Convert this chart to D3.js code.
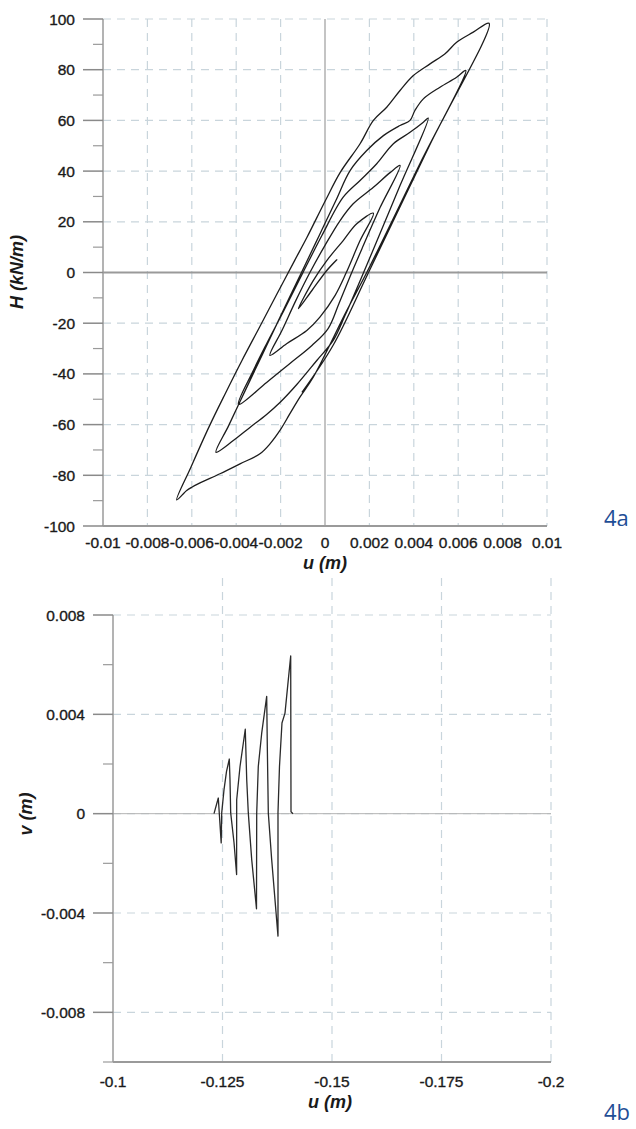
<!DOCTYPE html>
<html><head><meta charset="utf-8">
<script src="https://cdn.jsdelivr.net/npm/d3@7"></script>
<style>
html,body{margin:0;padding:0;background:#fff;}
svg{display:block;}
</style></head>
<body>
<svg id="chart" width="636" height="1129"></svg>
<script>
// ---------- Figure 4a data: H (kN/m) vs u (m) ----------
const uTopTicks = [-0.01,-0.008,-0.006,-0.004,-0.002,0,0.002,0.004,0.006,0.008,0.01];
const uTopLabels = ["-0.01","-0.008","-0.006","-0.004","-0.002","0","0.002","0.004","0.006","0.008","0.01"];
const hMajorTicks = [100,80,60,40,20,0,-20,-40,-60,-80,-100];
const hMinorTicks = [90,70,50,30,10,-10,-30,-50,-70,-90];
const hLabels = ["100","80","60","40","20","0","-20","-40","-60","-80","-100"];

const uLoop = [0,0.00023,0.00053,0.00008,-0.00059,-0.0012,
 -0.00053,0.00008,0.00082,0.00143,0.00218,
 0.00158,0.00096,0.00045,-0.00023,-0.00082,-0.00173,-0.00248,
 -0.00194,-0.00131,-0.00068,0,0.00068,0.00127,0.00218,0.00293,0.00338,
 0.00248,0.00167,0.00113,0.00063,0.00014,-0.00059,-0.00158,-0.00263,-0.0039,
 -0.00323,-0.00263,-0.00185,-0.00099,-0.00014,0.00082,0.00158,0.00233,0.00308,0.00383,0.00443,0.00465,
 0.00338,0.00212,0.00149,0.0009,0.00037,-0.00037,-0.00127,-0.00203,-0.00263,-0.00338,-0.00413,-0.00491,
 -0.00434,-0.00359,-0.00284,-0.00205,-0.00106,-0.00026,0.00049,0.00113,0.00188,0.00263,0.00338,0.00383,0.00405,0.00443,0.00518,0.00593,0.00634,
 0.00428,0.00188,0.00098,-0.00053,-0.00113,-0.00158,-0.00203,-0.00248,-0.00293,-0.00383,-0.00473,-0.00563,-0.006,-0.00623,-0.00668,
 -0.00604,-0.00523,-0.0045,-0.00374,-0.00295,-0.00216,-0.00137,-0.00081,0.00002,0.00068,0.00158,0.00218,0.00278,0.00338,0.00398,0.00473,0.00541,0.00593,0.00668,0.00739,
 0.00473,0.00196,0.00036,-0.00104];
const hLoop = [0,2.2,5.0,0.8,-7.1,-14.3,
 -3.2,4.7,12.6,19.2,23.4,
 12.6,0,-9.1,-17.6,-22.9,-28.1,-32.7,
 -22.9,-11.0,0,10.7,20.5,27.1,33.6,39.4,42.2,
 25.6,9.5,-1.6,-12.2,-22.1,-28.8,-35.9,-43.4,-52.1,
 -38.7,-28.1,-15.0,0,14.6,29.7,36.3,42.9,50.8,55.3,59.3,60.9,
 34.3,7.9,-5.1,-17.0,-26.8,-34.7,-44.2,-51.3,-56.0,-61.1,-66.3,-70.9,
 -60.4,-46.5,-32.7,-18.1,0,14.6,28.4,40.2,48.1,54.0,58.0,60.0,63.9,68.5,73.1,77.0,79.7,
 43.0,0,-15.0,-41.3,-49.2,-55.7,-62.3,-67.6,-71.5,-75.5,-79.4,-83.0,-84.7,-86.0,-89.7,
 -76.8,-61.0,-47.9,-34.7,-21.6,-8.4,4.7,13.9,28.4,39.4,50.8,60.0,65.2,71.8,77.7,82.3,86.3,90.8,94.8,98.3,
 50.5,0,-28.8,-47.3];

// ---------- Figure 4b data: v (m) vs u (m) ----------
const uBotTicks = [-0.1,-0.125,-0.15,-0.175,-0.2];
const uBotLabels = ["-0.1","-0.125","-0.15","-0.175","-0.2"];
const vMajorTicks = [0.008,0.004,0,-0.004,-0.008];
const vMinorTicks = [0.006,0.002,-0.002,-0.006,-0.01];
const vLabels = ["0.008","0.004","0","-0.004","-0.008"];

const uPath = [-0.12306,-0.12404,-0.1247,-0.12482,-0.12534,-0.12591,-0.12655,
 -0.12671,-0.12687,-0.12763,-0.12822,-0.12824,-0.129,-0.1302,
 -0.13053,-0.13089,-0.13167,-0.13276,-0.13281,-0.13317,-0.13395,-0.13509,
 -0.13523,-0.13546,-0.13623,-0.13767,-0.13767,-0.13801,-0.13858,-0.13927,-0.14002,-0.14057,
 -0.14064,-0.1411];
const vPath = [0,0.00063,-0.00118,0.00003,0.00096,0.00169,0.0022,
 0.00137,0.00003,-0.00117,-0.00245,0.00056,0.0019,0.0034,
 0.00137,0.00003,-0.00185,-0.00383,0.00003,0.0019,0.00324,0.00472,
 0.00271,0.00003,-0.00185,-0.00493,0.00004,0.0019,0.00365,0.00405,0.00539,0.00635,
 0.00008,0];

// ---------- drawing ----------
const svg = d3.select("#chart");
const gridColor = "#c9d5dc";
const axisColor = "#9a9a9a";
const tickFont = "'Liberation Sans', Arial, sans-serif";
const labelFill = "#1a1a1a";

function tickText(sel) {
  sel.attr("font-family", tickFont).attr("font-size", 15.5)
    .attr("fill", labelFill).attr("stroke", labelFill).attr("stroke-width", 0.35);
}
function titleText(sel) {
  sel.attr("font-family", tickFont).attr("font-size", 18).attr("font-weight", "bold")
    .attr("font-style", "italic").attr("fill", labelFill);
}

// ===== Top chart =====
const xT = d3.scaleLinear().domain([-0.01, 0.01]).range([103, 547]);
const yT = d3.scaleLinear().domain([-100, 100]).range([526, 19]);
const gT = svg.append("g");

gT.selectAll(".vg").data(uTopTicks.filter(d => d !== -0.01 && d !== 0)).join("line")
  .attr("x1", d => xT(d)).attr("x2", d => xT(d))
  .attr("y1", yT(100)).attr("y2", yT(-100))
  .attr("stroke", gridColor).attr("stroke-width", 1.2).attr("stroke-dasharray", "8,6");
gT.selectAll(".hg").data(hMajorTicks.filter(d => d !== -100 && d !== 0)).join("line")
  .attr("x1", xT(-0.01)).attr("x2", xT(0.01))
  .attr("y1", d => yT(d)).attr("y2", d => yT(d))
  .attr("stroke", gridColor).attr("stroke-width", 1.2).attr("stroke-dasharray", "8,6");

gT.append("line").attr("x1", xT(0)).attr("x2", xT(0)).attr("y1", yT(100)).attr("y2", yT(-100))
  .attr("stroke", "#b0b0b0").attr("stroke-width", 1.5);
gT.append("line").attr("x1", xT(-0.01)).attr("x2", xT(0.01)).attr("y1", yT(0)).attr("y2", yT(0))
  .attr("stroke", axisColor).attr("stroke-width", 2.2);
gT.append("line").attr("x1", xT(-0.01)).attr("x2", xT(-0.01)).attr("y1", yT(100)).attr("y2", yT(-100))
  .attr("stroke", axisColor).attr("stroke-width", 1.5);
gT.append("line").attr("x1", xT(-0.01)).attr("x2", xT(0.01)).attr("y1", yT(-100)).attr("y2", yT(-100))
  .attr("stroke", axisColor).attr("stroke-width", 2.2);
gT.selectAll(".mt").data(hMajorTicks).join("line")
  .attr("x1", xT(-0.01) - 20).attr("x2", xT(-0.01))
  .attr("y1", d => yT(d)).attr("y2", d => yT(d))
  .attr("stroke", "#8a8a8a").attr("stroke-width", 1.5);
gT.selectAll(".nt").data(hMinorTicks).join("line")
  .attr("x1", xT(-0.01) - 10).attr("x2", xT(-0.01))
  .attr("y1", d => yT(d)).attr("y2", d => yT(d))
  .attr("stroke", "#9a9a9a").attr("stroke-width", 1.2);
gT.selectAll(".yl").data(hMajorTicks).join("text")
  .attr("x", 75).attr("y", d => yT(d) + 5.5).attr("text-anchor", "end")
  .call(tickText).text((d, i) => hLabels[i]);
gT.selectAll(".xl").data(uTopTicks).join("text")
  .attr("x", d => xT(d)).attr("y", 548).attr("text-anchor", "middle")
  .call(tickText).text((d, i) => uTopLabels[i]);
gT.append("text").attr("x", 325).attr("y", 569).attr("text-anchor", "middle")
  .call(titleText).text("u (m)");
gT.append("text").attr("transform", "translate(23,272) rotate(-90)").attr("text-anchor", "middle")
  .call(titleText).text("H (kN/m)");
const loopData = uLoop.map((u, i) => [u, hLoop[i]]);
gT.append("path").datum(loopData)
  .attr("d", d3.line().curve(d3.curveCatmullRom.alpha(0.5)).x(d => xT(d[0])).y(d => yT(d[1])))
  .attr("fill", "none").attr("stroke", "#1c1c1c").attr("stroke-width", 1.3).attr("stroke-linejoin", "round");
svg.append("text").attr("x", 604).attr("y", 526).attr("font-family", "'Open Sans', 'Noto Sans', sans-serif")
  .attr("font-size", 22).attr("fill", "#1f4e96").text("4a");

// ===== Bottom chart =====
const xB = d3.scaleLinear().domain([-0.1, -0.2]).range([113, 551]);
const yB = d3.scaleLinear().domain([-0.01, 0.008]).range([1062, 615]);
const gB = svg.append("g");

gB.selectAll(".vg").data(uBotTicks.filter(d => d !== -0.1)).join("line")
  .attr("x1", d => xB(d)).attr("x2", d => xB(d))
  .attr("y1", 578).attr("y2", yB(-0.01))
  .attr("stroke", gridColor).attr("stroke-width", 1.2).attr("stroke-dasharray", "8,6");
gB.selectAll(".hg").data(vMajorTicks).join("line")
  .attr("x1", xB(-0.1)).attr("x2", xB(-0.2))
  .attr("y1", d => yB(d)).attr("y2", d => yB(d))
  .attr("stroke", gridColor).attr("stroke-width", 1.2).attr("stroke-dasharray", "8,6");
gB.append("line").attr("x1", xB(-0.1)).attr("x2", xB(-0.2)).attr("y1", yB(0)).attr("y2", yB(0))
  .attr("stroke", "#b5b5b5").attr("stroke-width", 1);
gB.append("line").attr("x1", xB(-0.1)).attr("x2", xB(-0.1)).attr("y1", yB(0.008)).attr("y2", yB(-0.01))
  .attr("stroke", axisColor).attr("stroke-width", 1.5);
gB.append("line").attr("x1", xB(-0.1)).attr("x2", xB(-0.2)).attr("y1", yB(-0.01)).attr("y2", yB(-0.01))
  .attr("stroke", axisColor).attr("stroke-width", 2.2);
gB.selectAll(".mt").data(vMajorTicks).join("line")
  .attr("x1", xB(-0.1) - 20).attr("x2", xB(-0.1))
  .attr("y1", d => yB(d)).attr("y2", d => yB(d))
  .attr("stroke", "#8a8a8a").attr("stroke-width", 1.5);
gB.selectAll(".nt").data(vMinorTicks).join("line")
  .attr("x1", xB(-0.1) - 10).attr("x2", xB(-0.1))
  .attr("y1", d => yB(d)).attr("y2", d => yB(d))
  .attr("stroke", "#9a9a9a").attr("stroke-width", 1.2);
gB.selectAll(".yl").data(vMajorTicks).join("text")
  .attr("x", 85).attr("y", d => yB(d) + 5.5).attr("text-anchor", "end")
  .call(tickText).text((d, i) => vLabels[i]);
gB.selectAll(".xl").data(uBotTicks).join("text")
  .attr("x", d => xB(d)).attr("y", 1087).attr("text-anchor", "middle")
  .call(tickText).text((d, i) => uBotLabels[i]);
gB.append("text").attr("x", 330).attr("y", 1108).attr("text-anchor", "middle")
  .call(titleText).text("u (m)");
gB.append("text").attr("transform", "translate(32,814) rotate(-90)").attr("text-anchor", "middle")
  .call(titleText).text("v (m)");
const vData = uPath.map((u, i) => [u, vPath[i]]);
gB.append("path").datum(vData)
  .attr("d", d3.line().x(d => xB(d[0])).y(d => yB(d[1])))
  .attr("fill", "none").attr("stroke", "#2a2a2a").attr("stroke-width", 1.3).attr("stroke-linejoin", "round");
svg.append("text").attr("x", 604).attr("y", 1120).attr("font-family", "'Open Sans', 'Noto Sans', sans-serif")
  .attr("font-size", 22).attr("fill", "#1f4e96").text("4b");
</script>
</body></html>
